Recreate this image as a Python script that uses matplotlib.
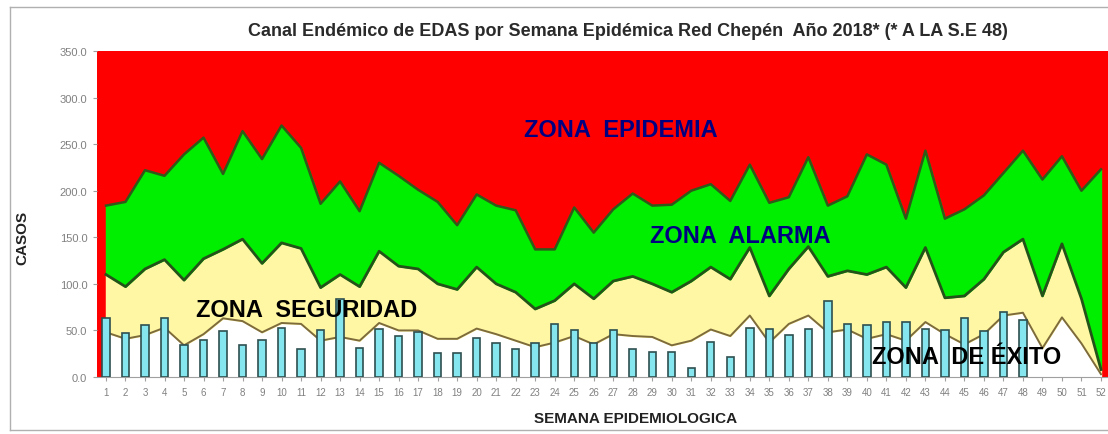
import numpy as np
import matplotlib.pyplot as plt
from matplotlib.lines import Line2D

plt.rcParams["font.family"] = ["Liberation Sans", "DejaVu Sans"]

# semanas epidemiológicas
semanas = np.arange(1, 53)

# límites del canal endémico
q3 = [184, 188, 222, 216, 239, 257, 218, 264, 234, 270, 246, 186, 210, 178, 230, 216,
      201, 188, 163, 196, 184, 179, 137, 137, 182, 155, 180, 197, 184, 185, 200, 207,
      189, 228, 187, 193, 236, 184, 194, 239, 228, 170, 243, 170, 180, 195, 219, 243,
      212, 237, 200, 223]
mediana = [110, 97, 116, 126, 104, 127, 137, 148, 122, 144, 138, 96, 110, 97, 135, 119,
           116, 100, 94, 118, 100, 91, 73, 82, 100, 84, 103, 108, 100, 91, 103, 118,
           105, 139, 87, 116, 140, 108, 114, 110, 118, 96, 139, 85, 87, 105, 134, 148,
           87, 143, 84, 8]
q1 = [48, 41, 45, 53, 34, 46, 63, 60, 48, 58, 57, 39, 43, 39, 58, 50,
      50, 41, 41, 52, 46, 39, 32, 37, 44, 35, 46, 44, 43, 34, 39, 51,
      44, 66, 37, 57, 66, 48, 51, 41, 46, 39, 59, 46, 35, 46, 66, 69,
      31, 64, 36, 3]

# casos 2018 hasta la S.E 48
casos_2018 = [63, 47, 56, 63, 34, 40, 49, 34, 40, 53, 30, 50, 84, 31, 52, 44,
              48, 26, 26, 42, 36, 30, 36, 57, 50, 36, 50, 30, 27, 27, 10, 38,
              22, 53, 52, 45, 51, 82, 57, 56, 59, 59, 51, 50, 63, 49, 70, 61]
semanas_2018 = semanas[:len(casos_2018)]

fig = plt.figure(figsize=(11.08, 4.35), dpi=100)
ax = fig.add_axes([97 / 1108, 57 / 435, 1 - 97 / 1108, 326 / 435])
ax.set_facecolor("#ff0000")

# zonas
ax.fill_between(semanas, 0, q1, color="white", zorder=1)
ax.fill_between(semanas, q1, mediana, color="#fff7a3", zorder=1)
ax.fill_between(semanas, mediana, q3, color="#00ee00", zorder=1)
ax.plot(semanas, q3, color="#2f5a1a", lw=1.8, zorder=2)
ax.plot(semanas, mediana, color="#24531a", lw=2.0, zorder=2)
ax.plot(semanas, q1, color="#7d6b3c", lw=1.4, zorder=2)

# barras de casos
ax.bar(semanas_2018, casos_2018, width=0.38, color="#86e6f0",
       edgecolor="#2e4f4f", linewidth=1.2, zorder=3)

ax.set_xlim(0.54, 52.36)
ax.set_ylim(0, 350)
ax.set_yticks(np.arange(0, 351, 50))
ax.set_yticklabels([f"{v:.1f}" for v in np.arange(0, 351, 50)], fontsize=8, color="#808080")
ax.set_xticks(semanas)
ax.set_xticklabels([str(s) for s in semanas], fontsize=7, color="#808080")
ax.tick_params(axis="both", length=3, color="#a0a0a0", pad=4)
for s in ["top", "right", "left"]:
    ax.spines[s].set_visible(False)
ax.spines["bottom"].set_color("#a0a0a0")

# etiquetas de zonas
ax.text(27.4, 266, "ZONA  EPIDEMIA", color="#000080", fontsize=17,
        fontweight="bold", ha="center", va="center", zorder=5)
ax.text(33.5, 152, "ZONA  ALARMA", color="#000080", fontsize=17,
        fontweight="bold", ha="center", va="center", zorder=5)
ax.text(11.3, 72, "ZONA  SEGURIDAD", color="black", fontsize=17,
        fontweight="bold", ha="center", va="center", zorder=5)
ax.text(45.1, 21.5, "ZONA  DE ÉXITO", color="black", fontsize=17,
        fontweight="bold", ha="center", va="center", zorder=5)

fig.text(628 / 1108, 1 - 32 / 435,
         "Canal Endémico de EDAS por Semana Epidémica Red Chepén  Año 2018* (* A LA S.E 48)",
         ha="center", va="center", fontsize=13, fontweight="bold", color="#2a2a2a")
fig.text(22 / 1108, 1 - 238 / 435, "CASOS", rotation=90, ha="center", va="center",
         fontsize=11, fontweight="bold", color="#222222")
fig.text(636 / 1108, 1 - 419 / 435, "SEMANA EPIDEMIOLOGICA", ha="center", va="center",
         fontsize=11, fontweight="bold", color="#222222")

# marco exterior
fig.add_artist(Line2D([10 / 1108, 1], [1 - 8 / 435, 1 - 8 / 435], color="#b0b0b0", lw=1))
fig.add_artist(Line2D([10 / 1108, 10 / 1108], [1 - 8 / 435, 1 - 431 / 435], color="#b0b0b0", lw=1))
fig.add_artist(Line2D([10 / 1108, 1], [1 - 431 / 435, 1 - 431 / 435], color="#b0b0b0", lw=1))

fig.savefig("out.png", dpi=100)
